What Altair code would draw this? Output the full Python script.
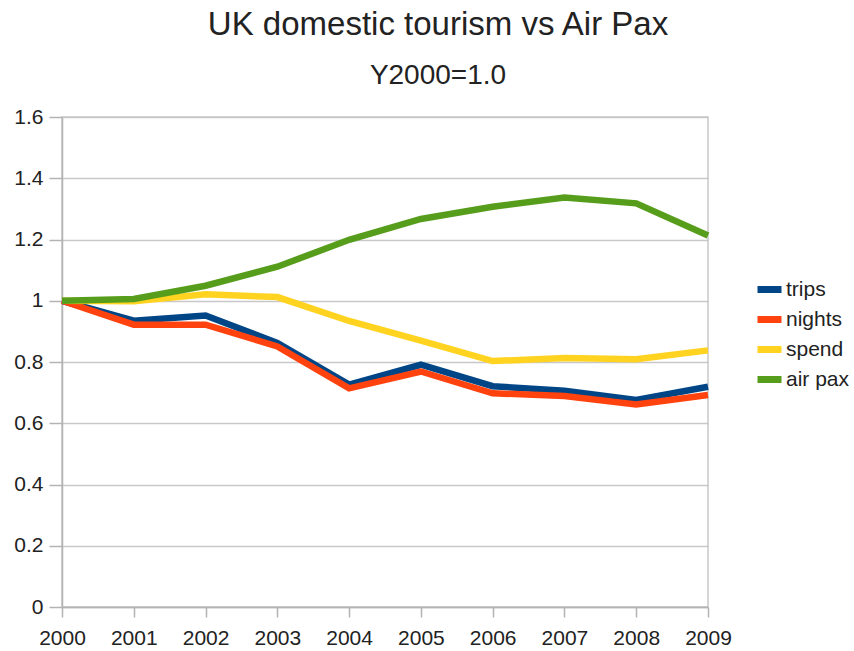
import altair as alt
import pandas as pd

years = [2000, 2001, 2002, 2003, 2004, 2005, 2006, 2007, 2008, 2009]
trips = [1.0, 0.935, 0.952, 0.862, 0.726, 0.791, 0.721, 0.706, 0.676, 0.719]
nights = [1.0, 0.922, 0.922, 0.851, 0.714, 0.769, 0.698, 0.689, 0.661, 0.692]
spend = [1.0, 0.998, 1.021, 1.012, 0.934, 0.870, 0.803, 0.813, 0.809, 0.838]
air_pax = [1.0, 1.006, 1.049, 1.111, 1.199, 1.267, 1.307, 1.337, 1.318, 1.213]

series_names = ["trips", "nights", "spend", "air pax"]
series_colors = ["#004586", "#ff420e", "#ffd320", "#579d1c"]
y_ticks = [0, 0.2, 0.4, 0.6, 0.8, 1.0, 1.2, 1.4, 1.6]

rows = []
for name, vals in zip(series_names, [trips, nights, spend, air_pax]):
    for yr, v in zip(years, vals):
        rows.append({"year": yr, "value": v, "series": name,
                     "order": series_names.index(name)})
df = pd.DataFrame(rows)

FONT = "Liberation Sans"

chart = alt.Chart(df).mark_line(strokeWidth=6.5, strokeJoin="miter", strokeCap="butt").encode(
    x=alt.X("year:Q",
            scale=alt.Scale(domain=[2000, 2009], nice=False, zero=False),
            axis=alt.Axis(values=years, format="d", title=None, grid=False,
                          tickSize=10, labelPadding=10, labelFontSize=21,
                          labelFont=FONT, labelColor="#222222",
                          domainColor="#b3b3b3", tickColor="#b3b3b3",
                          domainWidth=1.5, tickWidth=1.5, labelFlush=False)),
    y=alt.Y("value:Q",
            scale=alt.Scale(domain=[0, 1.6], nice=False),
            axis=alt.Axis(values=y_ticks, format="~g", title=None,
                          tickSize=13, labelPadding=6, labelFontSize=21,
                          labelFont=FONT, labelColor="#222222",
                          gridColor="#c8c8c8", gridWidth=1.5,
                          domainColor="#b3b3b3", tickColor="#b3b3b3",
                          domainWidth=1.5, tickWidth=1.5)),
    color=alt.Color("series:N",
                    scale=alt.Scale(domain=series_names, range=series_colors),
                    sort=series_names,
                    legend=alt.Legend(title=None, orient="none",
                                      legendX=692, legendY=157,
                                      symbolType="stroke", symbolSize=576,
                                      symbolStrokeWidth=7,
                                      labelFontSize=21, labelFont=FONT,
                                      labelColor="#222222", labelOffset=1,
                                      rowPadding=-2)),
    order=alt.Order("order:Q"),
    detail="series:N",
).properties(
    width=646,
    height=490,
    padding={"left": 62, "top": 117, "right": 146, "bottom": 44},
    autosize=alt.AutoSizeParams(type="none"),
    title=alt.TitleParams(
        "UK domestic tourism vs Air Pax",
        subtitle="Y2000=1.0",
        fontSize=33, subtitleFontSize=28,
        font=FONT, subtitleFont=FONT,
        fontWeight="normal", color="#222222", subtitleColor="#222222",
        anchor="middle", dx=53, offset=16, subtitlePadding=20,
    ),
).configure_view(
    stroke="#c8c8c8", strokeWidth=1.5
)

chart.save("out.html", embed_options={"renderer": "svg", "actions": False})
